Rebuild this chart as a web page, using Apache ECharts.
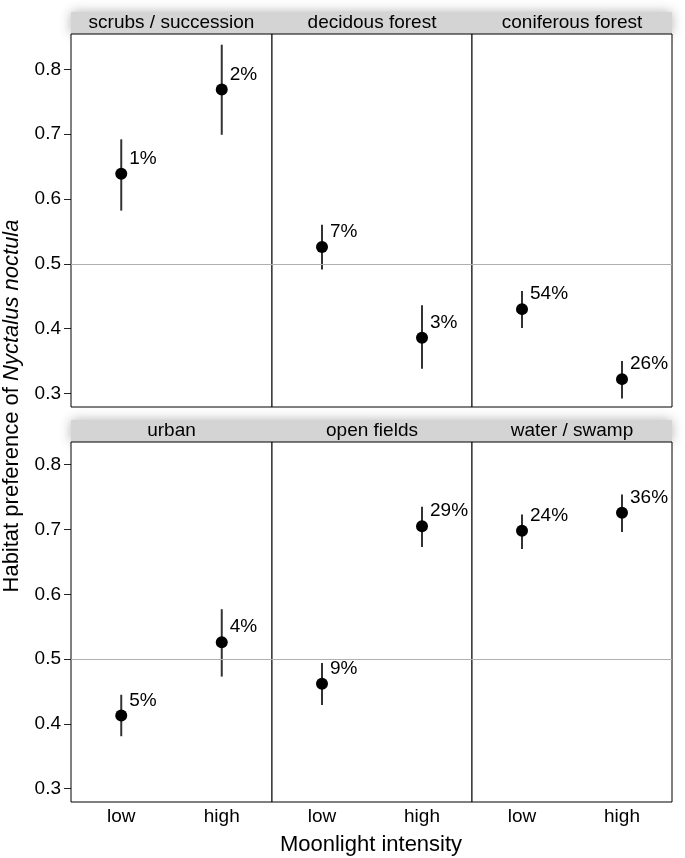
<!DOCTYPE html>
<html>
<head>
<meta charset="utf-8">
<script src="https://cdn.jsdelivr.net/npm/echarts@6/dist/echarts.min.js"></script>
<style>
  html, body { margin: 0; padding: 0; background: #fff; }
  #chart { width: 685px; height: 858px; }
</style>
</head>
<body>
<div id="chart"></div>
<script>
// data
const habitats = ['scrubs / succession', 'decidous forest', 'coniferous forest', 'urban', 'open fields', 'water / swamp'];
const moonlight = ['low', 'high'];
const estLow = [0.639, 0.526, 0.430, 0.413, 0.462, 0.698];
const estHigh = [0.769, 0.386, 0.322, 0.526, 0.705, 0.726];
const ciLowLower = [0.582, 0.491, 0.401, 0.381, 0.429, 0.670];
const ciLowUpper = [0.692, 0.560, 0.458, 0.445, 0.494, 0.723];
const ciHighLower = [0.699, 0.338, 0.292, 0.473, 0.673, 0.696];
const ciHighUpper = [0.838, 0.436, 0.350, 0.577, 0.735, 0.754];
const pctLow = ['1%', '7%', '54%', '5%', '9%', '24%'];
const pctHigh = ['2%', '3%', '26%', '4%', '29%', '36%'];
const yTicks = [0.3, 0.4, 0.5, 0.6, 0.7, 0.8];
const refLine = 0.5;

// layout
const FONT = 'Liberation Sans, Arial, Helvetica, sans-serif';
const colLeft = [71, 272, 472];
const colWidth = [201, 200, 200];
const rowTop = [34, 442];
const rowHeight = [373, 360];
const rowMin = [0.279, 0.2795];
const rowMax = [0.8545, 0.835];

const chart = echarts.init(document.getElementById('chart'));

const grids = [], xAxes = [], yAxes = [], series = [], graphics = [];

habitats.forEach((name, i) => {
  const row = Math.floor(i / 3), col = i % 3;
  grids.push({
    left: colLeft[col], top: rowTop[row], width: colWidth[col], height: rowHeight[row],
    show: true, borderColor: '#000', borderWidth: 1, backgroundColor: '#fff', z: 1
  });
  xAxes.push({
    gridIndex: i, type: 'category', data: moonlight,
    axisLine: { show: false }, axisTick: { show: false },
    axisLabel: { show: row === 1, fontFamily: FONT, fontSize: 19, color: '#000', margin: 5 },
    splitLine: { show: false }
  });
  yAxes.push({
    gridIndex: i, type: 'value', min: rowMin[row], max: rowMax[row],
    axisLine: { show: false },
    axisTick: { show: col === 0, customValues: yTicks, length: 7, lineStyle: { color: '#222' } },
    axisLabel: {
      show: col === 0, customValues: yTicks, formatter: v => v.toFixed(1),
      fontFamily: FONT, fontSize: 19, color: '#000', margin: 10
    },
    splitLine: { show: false }
  });

  const bars = [
    [0, ciLowLower[i], ciLowUpper[i]],
    [1, ciHighLower[i], ciHighUpper[i]]
  ];
  series.push({
    type: 'custom', xAxisIndex: i, yAxisIndex: i, z: 3, silent: true,
    data: bars,
    renderItem: (params, api) => {
      const a = api.coord([api.value(0), api.value(1)]);
      const b = api.coord([api.value(0), api.value(2)]);
      return { type: 'line', shape: { x1: a[0], y1: a[1], x2: b[0], y2: b[1] },
        style: { stroke: '#333', lineWidth: 2 } };
    }
  });
  series.push({
    type: 'scatter', xAxisIndex: i, yAxisIndex: i, z: 4,
    symbol: 'circle', symbolSize: 12,
    itemStyle: { color: '#000', opacity: 1 },
    data: [
      { value: [0, estLow[i]], pct: pctLow[i] },
      { value: [1, estHigh[i]], pct: pctHigh[i] }
    ],
    label: {
      show: true, position: [14, -9], align: 'left', verticalAlign: 'middle',
      formatter: p => p.data.pct,
      fontFamily: FONT, fontSize: 19, color: '#000'
    },
    markLine: {
      silent: true, symbol: 'none', label: { show: false },
      lineStyle: { color: '#b0b0b0', width: 1, type: 'solid' },
      data: [{ yAxis: refLine }]
    }
  });

  graphics.push({
    type: 'text', z: 20,
    x: colLeft[col] + colWidth[col] / 2, y: rowTop[row] - 11,
    style: { text: name, font: '19px ' + FONT, fill: '#000', align: 'center', verticalAlign: 'middle' }
  });
});

// strip bands behind the panel titles
[0, 1].forEach(row => {
  graphics.unshift({
    type: 'rect', z: 0,
    shape: { x: 71, y: rowTop[row] - 22, width: 601, height: 22 },
    style: { fill: '#d4d4d4', shadowBlur: 12, shadowColor: 'rgba(0,0,0,0.3)' }
  });
});

graphics.push({
  type: 'text', z: 20, x: 12, y: 406, rotation: Math.PI / 2,
  style: {
    text: 'Habitat preference of {i|Nyctalus noctula}',
    font: '22px ' + FONT, fill: '#000', align: 'center', verticalAlign: 'middle',
    rich: { i: { fontStyle: 'italic', fontSize: 22, fontFamily: FONT } }
  }
});
graphics.push({
  type: 'text', z: 20, x: 371, y: 845,
  style: { text: 'Moonlight intensity', font: '22px ' + FONT, fill: '#000', align: 'center', verticalAlign: 'middle' }
});

chart.setOption({
  animation: false,
  grid: grids,
  xAxis: xAxes,
  yAxis: yAxes,
  series: series,
  graphic: graphics
});
</script>
</body>
</html>
